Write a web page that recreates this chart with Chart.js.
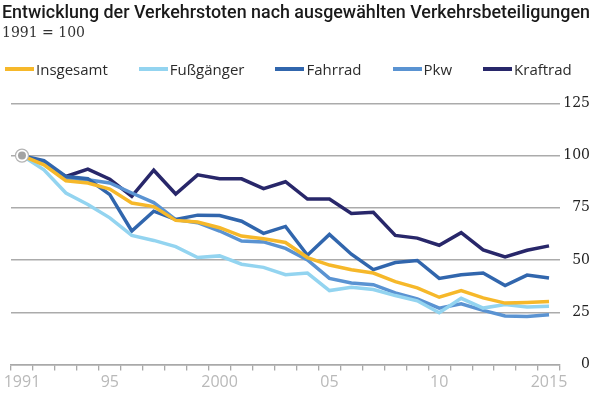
<!DOCTYPE html>
<html>
<head>
<meta charset="utf-8">
<script src="https://cdn.jsdelivr.net/npm/chart.js@4/dist/chart.umd.min.js"></script>
<style>
  html, body { margin: 0; padding: 0; background: #fff; }
  #wrap { position: relative; width: 602px; height: 398px; }
  #legend { position: absolute; left: 5px; top: 59px; display: flex; align-items: center;
            font: 15px 'Open Sans', sans-serif; color: #2b2b2b; }
  #legend .item { display: flex; align-items: center; margin-right: 31px; }
  #legend .swatch { width: 29px; height: 4px; margin-right: 2px; }
</style>
</head>
<body>
<div id="wrap">
  <canvas id="chart" width="602" height="398"></canvas>
  <div id="legend"></div>
</div>
<script>
// Verkehrstote, 1991 = 100
const years = ['1991', '1992', '1993', '1994', '1995', '1996', '1997', '1998', '1999', '2000',
  '2001', '2002', '2003', '2004', '2005', '2006', '2007', '2008', '2009', '2010',
  '2011', '2012', '2013', '2014', '2015'];
const xTickLabels = ['1991', '', '', '', '95', '', '', '', '', '2000', '', '', '', '', '05',
  '', '', '', '', '10', '', '', '', '', '2015'];
const yTicks = [0, 25, 50, 75, 100, 125];

const insgesamt = [100, 95.6, 88, 86.9, 84, 77.3, 75.6, 69, 68.2, 65.5, 61.5, 60.2, 58.4,
  51.2, 47.6, 45.4, 43.8, 39.7, 36.7, 32.2, 35.4, 31.9, 29.4, 29.7, 30.2];
const fussgaenger = [100, 93.2, 82.1, 76.6, 70.2, 61.8, 59.4, 56.4, 51.2, 52, 48, 46.5, 43,
  43.8, 35.4, 37, 35.9, 33, 30.5, 24.8, 31.7, 27, 28.7, 27.5, 27.9];
const fahrrad = [100, 97.6, 90, 88.9, 81.3, 63.9, 73.4, 69.4, 71.5, 71.3, 68.6, 62.8, 66.1,
  52.3, 62.3, 52.8, 45.4, 48.8, 49.8, 41.2, 43, 43.8, 37.8, 42.8, 41.4];
const pkw = [100, 96, 89.2, 88.4, 86.9, 82.1, 77.5, 69.4, 67.9, 63.9, 59.1, 58.7, 55.6,
  50.1, 41.2, 39, 38.2, 34.3, 31.4, 27, 29.1, 25.9, 23.2, 23, 23.8];
const kraftrad = [100, 96, 90, 93.5, 88.7, 80.5, 93, 81.6, 90.8, 88.9, 88.9, 84.2, 87.5,
  79.2, 79.2, 72.3, 72.9, 61.8, 60.5, 57.1, 63.1, 54.9, 51.5, 54.7, 56.8];

// base year marker (1991 = 100)
const baseMarker = years.map((y, i) => i === 0 ? insgesamt[0] : null);

function line(label, data, color) {
  return {
    label: label, data: data, yAxisID: 'y', borderColor: color, backgroundColor: color,
    borderWidth: 3.5, pointRadius: 0, tension: 0, fill: false
  };
}

const chart = new Chart(document.getElementById('chart'), {
  type: 'line',
  data: {
    labels: years,
    datasets: [
      line('Insgesamt', insgesamt, '#f6b82a'),
      line('Fußgänger', fussgaenger, '#93d4f0'),
      line('Fahrrad', fahrrad, '#3166ad'),
      line('Pkw', pkw, '#5a93d2'),
      line('Kraftrad', kraftrad, '#28276a'),
      { data: baseMarker, yAxisID: 'y', showLine: false, order: -1, pointRadius: 6.5,
        pointBackgroundColor: '#fff', pointBorderColor: '#b4b4b4', pointBorderWidth: 1.2 },
      { data: baseMarker, yAxisID: 'y', showLine: false, order: -2, pointRadius: 4,
        pointBackgroundColor: '#a3a3a3', pointBorderWidth: 0 }
    ]
  },
  options: {
    responsive: false,
    animation: false,
    layout: { padding: { left: 2, right: 12, top: 0, bottom: 0 } },
    plugins: {
      legend: { display: false },
      tooltip: { enabled: false },
      title: {
        display: true, align: 'start', color: '#1a1a1a',
        text: 'Entwicklung der Verkehrstoten nach ausgewählten Verkehrsbeteiligungen',
        font: { family: 'Roboto', size: 18, weight: '500' },
        padding: { top: 3, bottom: 0 }
      },
      subtitle: {
        display: true, align: 'start', color: '#333',
        text: '1991 = 100',
        font: { family: 'DejaVu Serif', size: 14 },
        padding: { top: 0, bottom: 62 }
      }
    },
    scales: {
      x: {
        offset: true,
        grid: { offset: true, drawOnChartArea: false, drawTicks: true, tickLength: 6,
                color: '#a9a9a9', lineWidth: 1.3 },
        border: { display: true, color: '#a9a9a9', width: 1.5 },
        ticks: {
          autoSkip: false, maxRotation: 0, padding: 2, color: '#b9b9b9',
          font: { family: 'Open Sans', size: 16 },
          callback: (v, i) => xTickLabels[i]
        },
        afterFit: s => { s.height = 33.5; }
      },
      yLeft: {
        position: 'left', display: true,
        grid: { display: false }, border: { display: false }, ticks: { display: false },
        afterFit: s => { s.width = 9; }
      },
      y: {
        position: 'right', min: 0, max: 125,
        grid: { drawTicks: false, color: '#ababab', lineWidth: 1.5 },
        border: { display: false },
        ticks: { crossAlign: 'far', padding: 3, color: '#222',
                 font: { family: 'DejaVu Serif', size: 14 } },
        afterBuildTicks: s => { s.ticks = yTicks.map(v => ({ value: v })); },
        afterFit: s => { s.width = 30; }
      }
    }
  }
});

// legend built from the chart's datasets
const legendEl = document.getElementById('legend');
chart.data.datasets.filter(d => d.label).forEach(d => {
  const item = document.createElement('div');
  item.className = 'item';
  const sw = document.createElement('span');
  sw.className = 'swatch';
  sw.style.background = d.borderColor;
  const txt = document.createElement('span');
  txt.textContent = d.label;
  item.appendChild(sw);
  item.appendChild(txt);
  legendEl.appendChild(item);
});
</script>
</body>
</html>
